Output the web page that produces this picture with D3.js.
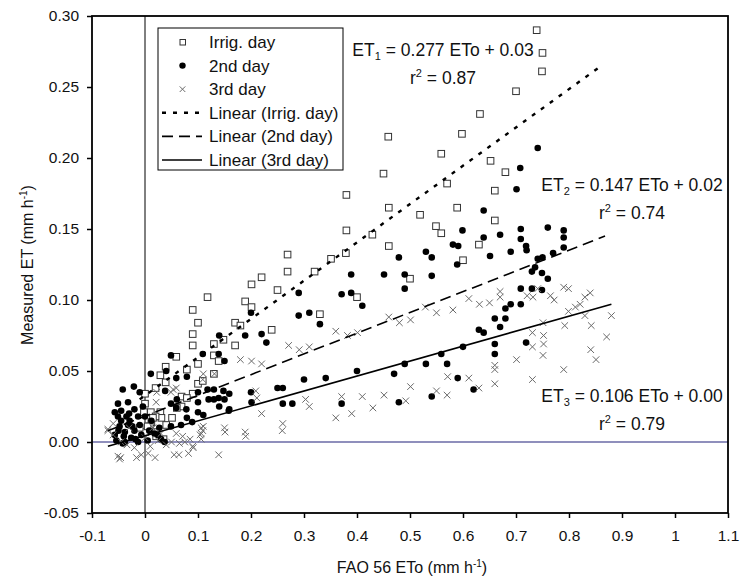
<!DOCTYPE html>
<html>
<head>
<meta charset="utf-8">
<script src="https://cdn.jsdelivr.net/npm/d3@7"></script>
<style>
  body { margin: 0; background: #fff; }
  svg text { font-family: "Liberation Sans", Arial, sans-serif; fill: #111; }
</style>
</head>
<body>
<div id="chart"></div>
<script>
// measured ET vs FAO 56 ETo
const irrigDay = [
  [0.739,0.290],[0.750,0.274],[0.749,0.261],[0.700,0.247],[0.632,0.231],[0.598,0.217],[0.459,0.215],
  [0.559,0.203],[0.652,0.198],[0.680,0.190],[0.450,0.189],[0.570,0.182],[0.660,0.177],[0.380,0.174],
  [0.460,0.165],[0.589,0.165],[0.519,0.160],[0.660,0.156],[0.549,0.152],[0.380,0.149],[0.559,0.147],
  [0.429,0.146],[0.630,0.139],[0.460,0.138],[0.379,0.133],[0.269,0.132],[0.351,0.129],[0.600,0.128],
  [0.269,0.120],[0.320,0.120],[0.220,0.116],[0.500,0.115],[0.201,0.111],[0.250,0.107],[0.118,0.102],
  [0.400,0.102],[0.189,0.099],[0.201,0.095],[0.090,0.093],[0.330,0.090],[0.100,0.084],[0.170,0.084],
  [0.180,0.082],[0.239,0.079],[0.090,0.076],[0.148,0.072],[0.090,0.068],[0.170,0.068],[0.130,0.069],
  [0.059,0.060],[0.130,0.061],[0.139,0.057],[0.100,0.055],[0.039,0.053],[0.079,0.051],[0.130,0.048],
  [0.029,0.047],[0.039,0.042],[0.100,0.041],[0.109,0.043],[0.020,0.038],[0.000,0.034],[0.090,0.034],
  [0.069,0.032],[0.079,0.031],[0.000,0.027],[0.069,0.025],[0.060,0.024],[0.011,0.021],[0.029,0.021],
  [0.031,0.017],[0.051,0.017],[0.020,0.018],[0.012,0.014],[0.009,0.011],[0.000,0.007],[0.021,0.007],
  [-0.002,0.021],[0.015,0.017],[0.005,0.011],[0.040,0.012],[0.021,0.004],[-0.010,0.010],[0.035,0.002]
];

const secondDay = [
  [0.741,0.207],[0.708,0.193],[0.701,0.178],[0.639,0.163],[0.639,0.144],[0.670,0.146],[0.709,0.150],
  [0.709,0.143],[0.760,0.151],[0.790,0.149],[0.790,0.144],[0.790,0.137],[0.599,0.149],[0.719,0.138],
  [0.720,0.135],[0.690,0.134],[0.651,0.131],[0.770,0.133],[0.741,0.129],[0.750,0.130],[0.736,0.123],
  [0.730,0.120],[0.749,0.119],[0.760,0.115],[0.581,0.139],[0.591,0.138],[0.530,0.134],[0.541,0.130],
  [0.479,0.130],[0.589,0.125],[0.389,0.118],[0.451,0.118],[0.490,0.118],[0.541,0.117],[0.490,0.108],
  [0.371,0.104],[0.389,0.105],[0.410,0.096],[0.709,0.108],[0.730,0.108],[0.749,0.107],[0.709,0.097],
  [0.690,0.097],[0.680,0.094],[0.680,0.087],[0.660,0.087],[0.670,0.081],[0.630,0.079],[0.639,0.077],
  [0.719,0.070],[0.660,0.069],[0.660,0.062],[0.600,0.067],[0.559,0.062],[0.530,0.055],[0.570,0.055],
  [0.490,0.055],[0.470,0.048],[0.400,0.050],[0.590,0.045],[0.620,0.037],[0.541,0.032],[0.479,0.028],
  [0.371,0.027],[0.290,0.105],[0.200,0.091],[0.290,0.089],[0.310,0.091],[0.330,0.083],[0.189,0.075],
  [0.220,0.076],[0.229,0.070],[0.300,0.044],[0.341,0.045],[0.140,0.075],[0.049,0.061],[0.109,0.062],
  [0.139,0.062],[0.150,0.057],[0.011,0.048],[0.040,0.050],[0.059,0.045],[0.079,0.046],[-0.042,0.037],
  [-0.021,0.039],[0.038,0.036],[0.100,0.035],[0.118,0.037],[0.130,0.037],[0.148,0.036],[0.159,0.034],
  [0.139,0.031],[0.159,0.023],[0.060,0.030],[0.100,0.028],[0.049,0.027],[0.078,0.023],[0.089,0.014],
  [0.068,0.012],[0.100,0.021],[0.110,0.019],[-0.010,0.035],[0.200,0.035],[0.250,0.038],[0.260,0.038],
  [0.260,0.027],[0.278,0.027],[0.120,0.030],[0.130,0.030],[0.150,0.030],[0.140,0.025],[0.158,0.022],
  [0.201,0.028],[0.059,0.024],[0.079,0.017],[0.049,0.011],
  [-0.032,0.028],[-0.051,0.027],[-0.057,0.021],[-0.051,0.018],[-0.048,0.011],[-0.057,0.005],
  [-0.054,0.001],[-0.038,0.000],[-0.026,0.003],[-0.020,0.008],[-0.029,0.015],[-0.020,0.023],
  [-0.013,0.018],[-0.007,0.005],[0.005,0.001],[0.024,0.005],[0.037,0.000],[0.027,0.010],
  [-0.038,0.007],[-0.032,0.012],[-0.045,0.015],[-0.013,0.000],[-0.004,0.025],[0.012,0.015],
  [0.018,0.006],[-0.045,0.022],[-0.040,0.004],[-0.024,0.011],[-0.010,0.012],[0.000,0.018],
  [-0.030,0.020],[0.008,0.008],[-0.050,0.008],[-0.042,-0.001],[-0.018,0.002],[0.030,0.002],[-0.035,0.018]
];

const thirdDay = [
  [0.360,0.078],[0.382,0.075],[0.401,0.077],[0.460,0.088],[0.480,0.084],[0.501,0.086],[0.529,0.095],
  [0.550,0.091],[0.581,0.093],[0.611,0.101],[0.631,0.097],[0.650,0.098],[0.670,0.102],[0.670,0.106],
  [0.721,0.103],[0.732,0.102],[0.741,0.108],[0.765,0.103],[0.772,0.100],[0.790,0.109],[0.799,0.108],
  [0.812,0.095],[0.821,0.097],[0.830,0.102],[0.840,0.105],[0.830,0.089],[0.842,0.082],[0.880,0.089],
  [0.871,0.074],[0.799,0.092],[0.751,0.084],[0.792,0.082],[0.731,0.077],[0.752,0.075],[0.731,0.067],
  [0.752,0.069],[0.751,0.061],[0.841,0.065],[0.851,0.058],[0.701,0.058],[0.790,0.051],[0.660,0.054],
  [0.660,0.051],[0.731,0.044],[0.611,0.045],[0.571,0.046],[0.660,0.041],[0.630,0.038],[0.501,0.039],
  [0.550,0.036],[0.570,0.033],[0.451,0.033],[0.410,0.032],[0.371,0.032],[0.492,0.029],[0.430,0.024],
  [0.390,0.020],[0.360,0.017],
  [0.271,0.068],[0.291,0.065],[0.310,0.067],[0.180,0.058],[0.201,0.057],[0.220,0.055],[0.110,0.048],
  [0.131,0.048],[0.109,0.044],[0.022,0.035],[0.053,0.037],[0.059,0.038],[0.049,0.035],[0.209,0.036],
  [0.211,0.031],[0.303,0.030],[0.310,0.025],[0.220,0.020],[0.260,0.013],[0.150,0.010],[0.189,0.007],
  [0.109,0.008],[0.110,0.011],[0.106,0.010],[0.106,0.006],[0.090,-0.003],[0.059,0.006],[0.071,0.004],
  [0.065,-0.001],[-0.060,0.013],[-0.070,0.009],[-0.070,0.008],[0.021,0.028],
  [-0.051,-0.010],[-0.046,-0.011],[-0.048,-0.012],[-0.016,-0.011],[-0.007,-0.009],[0.006,-0.008],
  [0.019,-0.011],[0.055,-0.009],[0.064,-0.009],[0.082,-0.008],[0.091,-0.004],[0.139,-0.009],
  [0.151,0.007],[0.190,0.004],[0.259,0.008],[0.104,0.005],[0.106,0.002],[-0.034,-0.002],
  [-0.060,0.005],[-0.030,0.010],[0.000,0.003],[0.010,-0.003],[0.025,0.001],[0.040,-0.002],
  [0.030,0.006],[-0.020,-0.004],[-0.045,0.000],[0.015,0.010],[0.075,0.000],[0.085,0.002],[0.050,0.000]
];

// trend line end points (as drawn)
const trendIrrig = [[-0.01, 0.030], [0.863, 0.2655]];
const trend2nd = [[-0.07, 0.008], [0.868, 0.145]];
const trend3rd = [[-0.07, -0.003], [0.880, 0.097]];

const xTicks = [-0.1, 0, 0.1, 0.2, 0.3, 0.4, 0.5, 0.6, 0.7, 0.8, 0.9, 1, 1.1];
const xTickLabels = ["-0.1", "0", "0.1", "0.2", "0.3", "0.4", "0.5", "0.6", "0.7", "0.8", "0.9", "1", "1.1"];
const yTicks = [-0.05, 0, 0.05, 0.10, 0.15, 0.20, 0.25, 0.30];
const yTickLabels = ["-0.05", "0.00", "0.05", "0.10", "0.15", "0.20", "0.25", "0.30"];

const margin = {top: 16, right: 12, bottom: 66, left: 92},
    width = 740 - margin.left - margin.right,
    height = 579 - margin.top - margin.bottom;

const svg = d3.select("#chart")
  .append("svg")
    .attr("width", 740)
    .attr("height", 579)
  .append("g")
    .attr("transform", "translate(" + margin.left + "," + margin.top + ")");

const x = d3.scaleLinear().domain([-0.1, 1.1]).range([0, width]);
const y = d3.scaleLinear().domain([-0.05, 0.30]).range([height, 0]);

// zero lines
svg.append("line")
    .attr("x1", 0).attr("x2", width)
    .attr("y1", y(0)).attr("y2", y(0))
    .attr("stroke", "#6a6aa6").attr("stroke-width", 1.5);
svg.append("line")
    .attr("x1", x(0)).attr("x2", x(0))
    .attr("y1", 0).attr("y2", height)
    .attr("stroke", "#000").attr("stroke-width", 1);

// axes
const xAxis = svg.append("g")
    .attr("transform", "translate(0," + height + ")")
    .call(d3.axisBottom(x).tickValues(xTicks).tickSize(5).tickPadding(12)
      .tickFormat((d, i) => xTickLabels[i]));
const yAxis = svg.append("g")
    .call(d3.axisLeft(y).tickValues(yTicks).tickSize(5).tickPadding(8)
      .tickFormat((d, i) => yTickLabels[i]));
[xAxis, yAxis].forEach(g => {
  g.select(".domain").remove();
  g.selectAll(".tick line").attr("stroke", "#000").attr("stroke-width", 1.5);
  g.selectAll("text").style("font-size", "15.5px").attr("fill", "#111");
});

svg.append("rect")
    .attr("width", width).attr("height", height)
    .attr("fill", "none").attr("stroke", "#000").attr("stroke-width", 1.8);

// points
svg.selectAll(".sq")
    .data(irrigDay)
    .enter()
    .append("rect")
    .attr("x", d => x(d[0]) - 3.3)
    .attr("y", d => y(d[1]) - 3.3)
    .attr("width", 6.6).attr("height", 6.6)
    .attr("fill", "#fff").attr("stroke", "#333").attr("stroke-width", 1);

svg.selectAll(".dot")
    .data(secondDay)
    .enter()
    .append("circle")
    .attr("cx", d => x(d[0]))
    .attr("cy", d => y(d[1]))
    .attr("r", 3.3)
    .attr("fill", "#000");

const cross = d3.symbol().type(d3.symbolX).size(30);
svg.selectAll(".cr")
    .data(thirdDay)
    .enter()
    .append("path")
    .attr("d", cross)
    .attr("transform", d => "translate(" + x(d[0]) + "," + y(d[1]) + ")")
    .attr("fill", "none").attr("stroke", "#6a6a6a").attr("stroke-width", 1);

// trend lines
const line = d3.line().x(d => x(d[0])).y(d => y(d[1]));
const trendStyles = [
  {data: trendIrrig, dash: "4,7", w: 2.4},
  {data: trend2nd, dash: "11,6", w: 1.6},
  {data: trend3rd, dash: null, w: 1.6}
];
trendStyles.forEach(t => {
  svg.append("path")
      .attr("d", line(t.data))
      .attr("fill", "none").attr("stroke", "#000")
      .attr("stroke-width", t.w)
      .attr("stroke-dasharray", t.dash);
});

// legend
const lg = svg.append("g").attr("transform", "translate(" + (158 - margin.left) + "," + (28 - margin.top) + ")");
lg.append("rect").attr("width", 185).attr("height", 142)
    .attr("fill", "#fff").attr("stroke", "#000").attr("stroke-width", 1);
const legendItems = ["Irrig. day", "2nd day", "3rd day", "Linear (Irrig. day)", "Linear (2nd day)", "Linear (3rd day)"];
legendItems.forEach((name, i) => {
  const cy = 14 + i * 23.6;
  lg.append("text").attr("x", 51).attr("y", cy + 6).style("font-size", "17px").text(name);
});
lg.append("rect").attr("x", 22).attr("y", 11.5).attr("width", 5.5).attr("height", 5.5)
    .attr("fill", "#fff").attr("stroke", "#333");
lg.append("circle").attr("cx", 24.5).attr("cy", 37.6).attr("r", 3.2).attr("fill", "#000");
lg.append("path").attr("d", d3.symbol().type(d3.symbolX).size(22))
    .attr("transform", "translate(24.5,61.2)").attr("stroke", "#6a6a6a").attr("fill", "none");
trendStyles.forEach((t, i) => {
  const cy = 14 + (i + 3) * 23.6;
  lg.append("line").attr("x1", 4).attr("x2", 44).attr("y1", cy).attr("y2", cy)
      .attr("stroke", "#000").attr("stroke-width", t.w).attr("stroke-dasharray", t.dash);
});

// equations
function eq(cx, cy, sub, rest, r2) {
  const t = svg.append("text").attr("x", cx - margin.left).attr("y", cy - margin.top + 6)
      .attr("text-anchor", "middle").style("font-size", "17.5px");
  t.append("tspan").text("ET");
  t.append("tspan").attr("dy", 4).style("font-size", "11px").text(sub);
  t.append("tspan").attr("dy", -4).text(" " + rest);
  const r = svg.append("text").attr("x", cx - margin.left).attr("y", cy - margin.top + 34)
      .attr("text-anchor", "middle").style("font-size", "17.5px");
  r.append("tspan").text("r");
  r.append("tspan").attr("dy", -7).style("font-size", "11px").text("2");
  r.append("tspan").attr("dy", 7).text(" = " + r2);
}
eq(443, 50, "1", "= 0.277 ETo + 0.03", "0.87");
eq(632, 185, "2", "= 0.147 ETo + 0.02", "0.74");
eq(632, 396, "3", "= 0.106 ETo + 0.00", "0.79");

// axis titles
const xt = svg.append("text").attr("x", 412 - margin.left).attr("y", 573 - margin.top)
    .attr("text-anchor", "middle").style("font-size", "16px");
xt.append("tspan").text("FAO 56 ETo (mm h");
xt.append("tspan").attr("dy", -6).style("font-size", "10px").text("-1");
xt.append("tspan").attr("dy", 6).text(")");

const yt = svg.append("text")
    .attr("transform", "translate(" + (33 - margin.left) + "," + (265 - margin.top) + ") rotate(-90)")
    .attr("text-anchor", "middle").style("font-size", "16px");
yt.append("tspan").text("Measured ET (mm h");
yt.append("tspan").attr("dy", -6).style("font-size", "10px").text("-1");
yt.append("tspan").attr("dy", 6).text(")");
</script>
</body>
</html>
